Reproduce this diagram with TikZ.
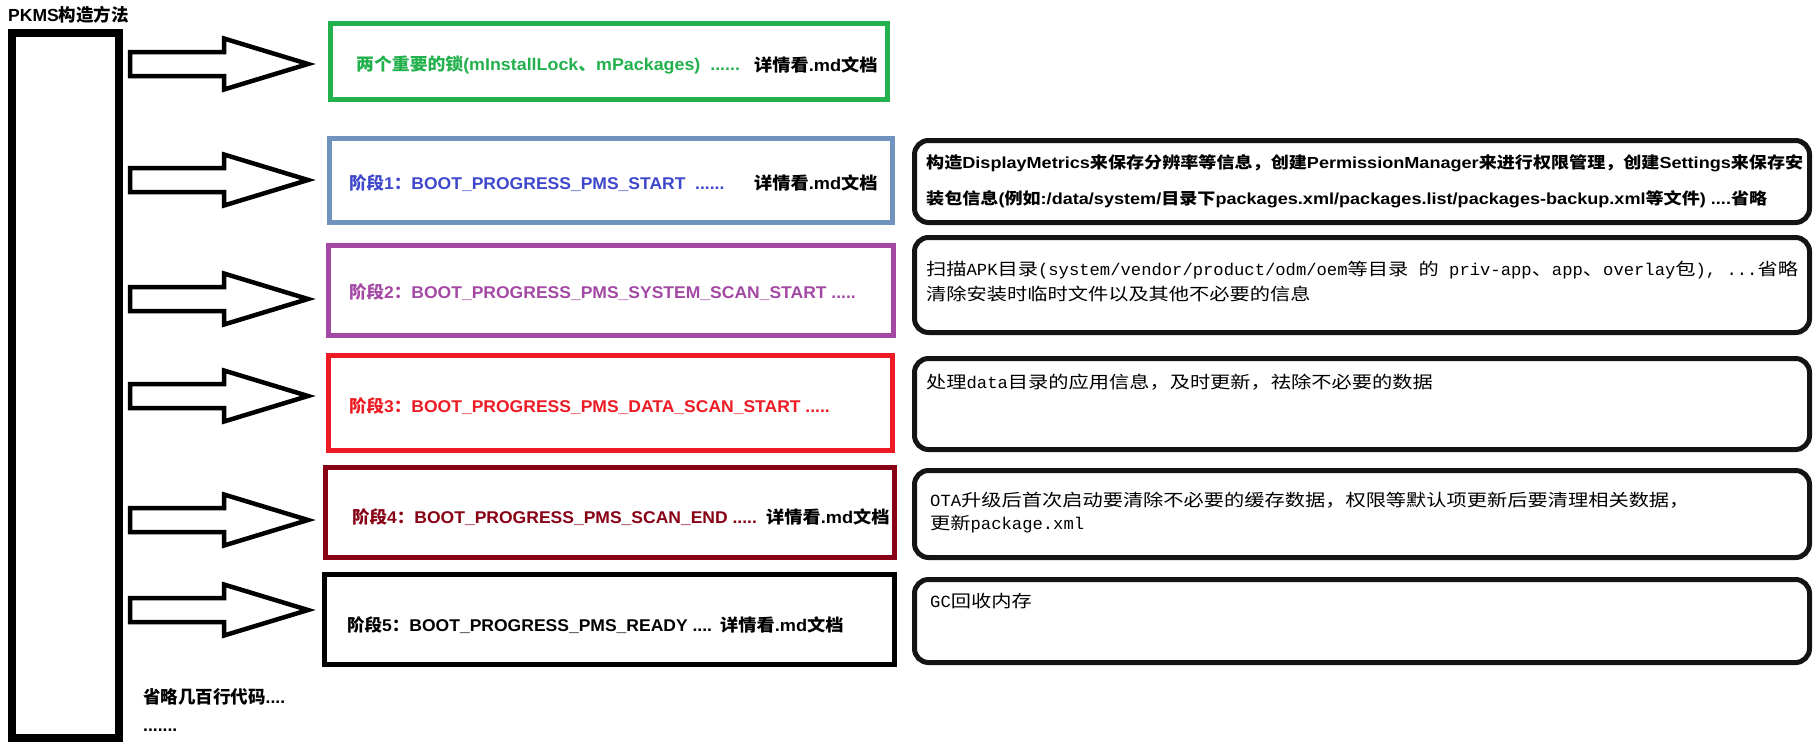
\documentclass[tikz,border=0pt]{standalone}
\usepackage{fontspec}
\usepackage{graphicx}
\setmainfont{Liberation Sans}
\newfontfamily\zhf{Noto Sans CJK SC}
\newfontfamily\monof[FakeStretch=0.85]{Liberation Mono}
\newcommand\cj[1]{{\zhf #1}}
\newcommand\widentxt[1]{\scalebox{1.03}[1]{#1}}
\newcommand\detailtxt{\scalebox{1.07}[1]{\cj{详情看}.md\cj{文档}}}
\definecolor{cgreen}{RGB}{34,177,76}
\definecolor{cblueb}{RGB}{112,146,190}
\definecolor{cbluet}{RGB}{63,72,204}
\definecolor{cpurple}{RGB}{163,73,164}
\definecolor{cred}{RGB}{237,28,36}
\definecolor{cdred}{RGB}{136,0,21}
\begin{document}
\begin{tikzpicture}[x=1pt,y=-1pt,
  lbox/.style={draw, line width=5, inner sep=0},
  rbox/.style={draw=black!92, line width=5, rounded corners=14, inner sep=0},
  ltxt/.style={anchor=west, inner sep=0, font=\bfseries\fontsize{17}{20}\selectfont},
  rbtxt/.style={anchor=west, inner sep=0, font=\bfseries\fontsize{16}{19}\selectfont},
  rtxt/.style={anchor=west, inner sep=0, font=\monof\fontsize{17}{20}\selectfont},
  blockarrow/.pic={\draw[line width=4.5, line join=miter, fill=white]
     (0,-12) -- (94,-12) -- (94,-25.5) -- (178,0) -- (94,25.5) -- (94,12) -- (0,12) -- cycle;}
]
\useasboundingbox[fill=white] (0,0) rectangle (1820,748);

% title and main bar
\node[ltxt, font=\bfseries\fontsize{17.5}{20}\selectfont] (title) at (8,15) {PKMS\cj{构造方法}};
\node[draw, line width=8, inner sep=0, minimum width=107, minimum height=705] (main) at (65,385) {};

% block arrows
\coordinate (a1) at (130,64);
\coordinate (a2) at (130,180);
\coordinate (a3) at (130,299);
\coordinate (a4) at (130,396);
\coordinate (a5) at (130,520);
\coordinate (a6) at (130,610);
\foreach \a in {a1,a2,a3,a4,a5,a6} {\pic at (\a) {blockarrow};}

% left boxes
\node[lbox, draw=cgreen, minimum width=557, minimum height=76] (b1) at (609,61.5) {};
\node[lbox, draw=cblueb, minimum width=563, minimum height=84] (b2) at (611,180.5) {};
\node[lbox, draw=cpurple, minimum width=565, minimum height=90] (b3) at (611,290.5) {};
\node[lbox, draw=cred, minimum width=564, minimum height=95] (b4) at (610.5,403) {};
\node[lbox, draw=cdred, minimum width=569, minimum height=90] (b5) at (610,512.5) {};
\node[lbox, draw=black, minimum width=570, minimum height=90] (b6) at (609.5,619.5) {};

% left texts
\node[ltxt, text=cgreen] (t1) at (356,65) {\scalebox{1.05}[1]{\cj{两个重要的锁}(mInstallLock\cj{、}mPackages)\ \ ......}};
\node[ltxt] (d1) at (754,65) {\detailtxt};
\node[ltxt, text=cbluet] (t2) at (349,183) {\widentxt{\cj{阶段}1\cj{：}BOOT\_PROGRESS\_PMS\_START\ \ ......}};
\node[ltxt] (d2) at (754,183) {\detailtxt};
\node[ltxt, text=cpurple] (t3) at (349,292) {\widentxt{\cj{阶段}2\cj{：}BOOT\_PROGRESS\_PMS\_SYSTEM\_SCAN\_START .....}};
\node[ltxt, text=cred] (t4) at (349,406) {\widentxt{\cj{阶段}3\cj{：}BOOT\_PROGRESS\_PMS\_DATA\_SCAN\_START .....}};
\node[ltxt, text=cdred] (t5) at (352,517) {\widentxt{\cj{阶段}4\cj{：}BOOT\_PROGRESS\_PMS\_SCAN\_END .....}};
\node[ltxt] (d5) at (766,517) {\detailtxt};
\node[ltxt] (t6) at (347,625) {\widentxt{\cj{阶段}5\cj{：}BOOT\_PROGRESS\_PMS\_READY ....}};
\node[ltxt] (d6) at (720,625) {\detailtxt};

% right boxes
\node[rbox, minimum width=895, minimum height=82] (r1) at (1362,181.5) {};
\node[rbox, minimum width=895, minimum height=95] (r2) at (1362,285) {};
\node[rbox, minimum width=895, minimum height=91] (r3) at (1362,404) {};
\node[rbox, minimum width=895, minimum height=87] (r4) at (1362,514) {};
\node[rbox, minimum width=895, minimum height=83] (r5) at (1362,621) {};

% right texts
\node[rbtxt] (r1a) at (926,163) {\scalebox{1.13}[1]{\cj{构造}DisplayMetrics\cj{来保存分辨率等信息，创建}PermissionManager\cj{来进行权限管理，创建}Settings\cj{来保存安}}};
\node[rbtxt] (r1b) at (926,199) {\scalebox{1.13}[1]{\cj{装包信息}(\cj{例如}:/data/system/\cj{目录下}packages.xml/packages.list/packages-backup.xml\cj{等文件}) ....\cj{省略}}};
\node[rtxt] (r2a) at (926,270) {\scalebox{1.19}[1]{\cj{扫描}APK\cj{目录}(system/vendor/product/odm/oem\cj{等目录} \cj{的} priv-app\cj{、}app\cj{、}overlay\cj{包}), ...\cj{省略}}};
\node[rtxt] (r2b) at (926,294) {\scalebox{1.19}[1]{\cj{清除安装时临时文件以及其他不必要的信息}}};
\node[rtxt] (r3a) at (926,382) {\scalebox{1.19}[1]{\cj{处理}data\cj{目录的应用信息，及时更新，祛除不必要的数据}}};
\node[rtxt] (r4a) at (930,500) {\scalebox{1.19}[1]{OTA\cj{升级后首次启动要清除不必要的缓存数据，权限等默认项更新后要清理相关数据，}}};
\node[rtxt] (r4b) at (930,524) {\scalebox{1.19}[1]{\cj{更新}package.xml}};
\node[rtxt] (r5a) at (930,601) {\scalebox{1.19}[1]{GC\cj{回收内存}}};

% bottom notes
\node[ltxt, font=\bfseries\fontsize{17.5}{20}\selectfont] (n1) at (143,697) {\cj{省略几百行代码}....};
\node[ltxt, font=\bfseries\fontsize{17.5}{20}\selectfont] (n2) at (143,730) {.......};
\end{tikzpicture}
\end{document}
